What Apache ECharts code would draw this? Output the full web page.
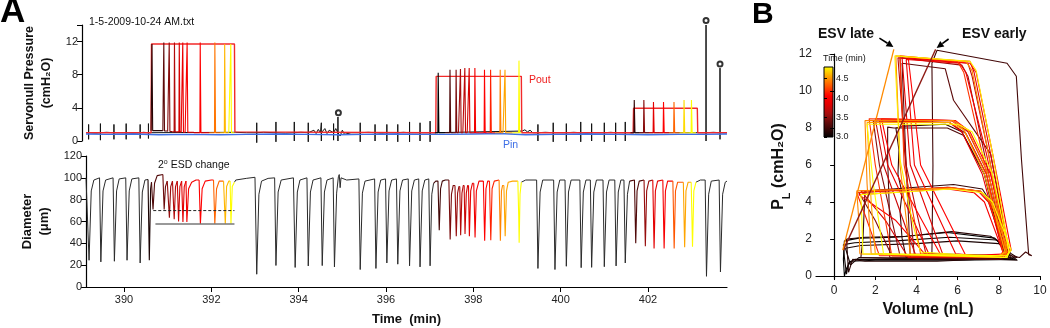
<!DOCTYPE html>
<html><head><meta charset="utf-8">
<script src="https://cdn.jsdelivr.net/npm/echarts@6/dist/echarts.min.js"></script>
<style>html,body{margin:0;padding:0;background:#fff}#c{width:1050px;height:328px}</style>
</head><body><div id="c"></div>
<script>
// ---------- tick labels ----------
const timeTicks = [390, 392, 394, 396, 398, 400, 402];
const pressureTicks = [0, 4, 8, 12];
const diameterTicks = [0, 20, 40, 60, 80, 100, 120];
const volumeTicks = [0, 2, 4, 6, 8, 10];
const plTicks = [0, 2, 4, 6, 8, 10, 12];
const colorbarTicks = [3.0, 3.5, 4.0, 4.5];

// ---------- Panel A, top: servo-null pressure (cmH2O) vs time (min) ----------
const pinTrace = [[389.13,0.85],[389.6,0.8],[390.2,0.85],[390.8,0.75],[391.5,0.8],[392.2,0.75],[392.8,0.8],[393.5,0.85],[394.2,0.8],[394.9,0.75],[395.5,0.8],[396.2,0.85],[396.8,0.8],[397.4,0.8],[398.0,0.85],[398.6,0.9],[399.2,0.75],[399.9,0.8],[400.6,0.85],[401.3,0.8],[402.0,0.75],[402.7,0.8],[403.3,0.8],[403.81,0.85]];
const poutTrace = [[389.13,1.0],[390.62,1.0],[390.63,11.7],[392.53,11.7],[392.54,1.1],[397.14,1.0],[397.15,7.8],[399.1,7.8],[399.11,1.0],[401.66,1.0],[401.67,3.95],[403.13,3.95],[403.14,1.0],[403.81,1.0]];
const servoBaseline = [[389.13,1.0],[389.35,0.95],[389.6,1.05],[389.9,1.0],[390.2,0.95],[390.45,1.05],[390.62,1.0],[392.55,1.05],[392.8,1.0],[393.2,1.05],[393.7,0.95],[394.05,1.05],[394.35,1.3],[394.4,0.9],[394.45,1.4],[394.5,1.0],[394.6,1.5],[394.65,0.9],[394.7,1.3],[394.85,1.5],[394.95,0.6],[395.0,1.3],[395.05,0.8],[395.2,1.0],[395.6,1.05],[395.9,0.95],[396.15,1.0],[396.4,1.05],[396.65,1.0],[396.9,1.0],[397.1,1.0],[399.12,1.2],[399.18,1.35],[399.24,1.1],[399.3,1.3],[399.36,1.0],[399.65,1.05],[400.0,1.0],[400.3,1.05],[400.6,0.95],[400.85,1.0],[401.15,1.05],[401.4,1.0],[401.6,1.0],[403.15,1.0],[403.5,1.05],[403.81,1.0]];
// [time, spike top, spike bottom]
const servoSpikes = [[389.19,2.0,0.2],[389.46,2.1,0.1],[389.77,2.0,0.2],[390.05,2.1,0.2],[390.37,2.0,0.3],[390.56,2.1,0.3],[393.04,2.2,-0.2],[393.48,2.3,-0.1],[393.90,2.3,0.0],[394.22,2.2,-0.1],[394.52,2.2,0.0],[394.80,2.1,0.1],[394.90,2.9,0.0],[395.41,2.2,-0.1],[395.75,2.0,0.0],[396.02,2.0,0.0],[396.27,2.0,-0.1],[396.54,2.3,-0.1],[396.78,2.2,0.0],[397.01,2.4,-0.1],[399.48,2.0,0.0],[399.83,2.2,-0.1],[400.13,2.1,0.0],[400.46,2.3,-0.1],[400.71,2.1,0.0],[401.0,2.2,-0.1],[401.26,2.2,0.0],[401.48,2.3,0.0],[403.33,14.0,0.0],[403.65,8.8,0.2]];
const servoMarkers = [[394.91,3.4],[403.33,14.55],[403.65,9.3]];
// [colour time, segment start, spike time, segment end, spike top, baseline]
const stepSpikes = [
 [3.15,390.62,390.645,390.89,11.7,1.25],[3.35,390.89,390.916,391.0,11.9,1.2],[3.5,391.0,391.04,391.1,11.9,1.15],[3.65,391.1,391.16,391.21,11.9,1.1],[3.8,391.21,391.27,391.31,11.9,1.1],[3.9,391.31,391.35,391.4,11.9,1.05],[4.0,391.4,391.45,391.6,11.9,1.05],[4.05,391.6,391.75,391.95,11.9,1.0],[4.4,391.95,392.085,392.2,11.9,1.0],[4.6,392.2,392.31,392.4,11.7,1.0],[4.8,392.4,392.45,392.53,11.7,1.0],
 [3.0,397.12,397.2,397.35,8.25,1.0],[3.3,397.35,397.47,397.54,8.6,1.0],[3.45,397.54,397.61,397.66,8.6,1.0],[3.6,397.66,397.71,397.76,8.7,1.0],[3.7,397.76,397.81,397.86,8.8,1.0],[3.8,397.86,397.91,397.97,8.8,1.0],[3.95,397.97,398.04,398.15,8.8,1.0],[4.05,398.15,398.26,398.33,8.6,1.0],[4.15,398.33,398.40,398.5,8.6,1.0],[4.45,398.5,398.62,398.68,8.6,1.0],[4.55,398.68,398.73,398.9,8.6,1.0],[4.8,398.9,399.05,399.1,9.7,1.0],
 [3.2,401.6,401.69,401.8,4.95,1.0],[3.5,401.8,401.91,402.02,4.95,1.0],[3.85,402.02,402.13,402.25,4.7,1.0],[4.05,402.25,402.36,402.48,4.7,1.0],[4.35,402.48,402.6,402.72,4.7,1.0],[4.7,402.72,402.83,402.92,4.95,1.0],[4.8,402.92,403.0,403.1,4.95,1.0]
];

// ---------- Panel A, bottom: diameter (um) vs time (min) ----------
const diameterBlack = [
 [[389.13,100],[389.17,100],[389.20,24.5],[389.25,88],[389.31,98],[389.44,100],[389.47,23],[389.52,88],[389.58,98],[389.75,100],[389.78,23.6],[389.83,88],[389.89,99],[390.04,100],[390.07,24.5],[390.12,88],[390.18,99],[390.34,100],[390.37,22],[390.42,87],[390.48,98],[390.55,98.5]],
 [[392.53,96],[392.56,98],[392.8,99.5],[393.0,100.5],[393.04,11.7],[393.09,85],[393.15,97],[393.3,99.5],[393.45,100],[393.48,19.7],[393.53,87],[393.6,98],[393.88,100],[393.92,17.9],[393.97,87],[394.03,98],[394.19,100],[394.22,19.3],[394.27,87],[394.33,98],[394.51,100],[394.54,19.6],[394.59,87],[394.65,98],[394.79,100],[394.82,18.4],[394.87,86],[394.91,101],[394.93,103],[394.95,91],[394.97,100],[395.1,98],[395.38,99],[395.41,16],[395.46,86],[395.52,97],[395.74,99],[395.77,17],[395.82,87],[395.88,98],[395.99,99],[396.02,22],[396.07,88],[396.13,98],[396.24,99],[396.27,20.9],[396.32,88],[396.38,98],[396.51,99],[396.54,19.4],[396.59,88],[396.65,98],[396.75,99],[396.78,18.4],[396.83,88],[396.89,98],[396.98,99],[397.01,19.4],[397.05,85],[397.09,95]],
 [[399.10,96],[399.2,98],[399.45,98],[399.48,17],[399.53,87],[399.59,98],[399.84,98],[399.87,16],[399.92,87],[399.98,98],[400.10,98],[400.13,19],[400.18,87],[400.24,98],[400.44,98],[400.47,17.7],[400.52,87],[400.58,98],[400.68,98],[400.71,18],[400.76,87],[400.82,98],[400.97,98],[401.0,18.6],[401.05,87],[401.11,98],[401.24,98],[401.27,19.3],[401.32,87],[401.38,98],[401.45,98],[401.48,22],[401.53,85],[401.58,97]],
 [[403.10,96],[403.2,98],[403.31,98],[403.34,9.8],[403.39,85],[403.45,97],[403.63,98],[403.66,13.8],[403.71,85],[403.77,96],[403.81,97]]
];
// [colour time, vertices]
const diameterColored = [
 [3.1,[[390.55,98.5],[390.58,24.5],[390.61,90],[390.63,96]]],
 [3.3,[[390.63,96],[390.655,96],[390.665,71],[390.70,95],[390.76,102],[390.80,103.5],[390.89,103]]],
 [3.4,[[390.89,103],[390.92,71],[390.95,92],[390.99,97]]],
 [3.55,[[390.99,97],[391.04,63.5],[391.07,92],[391.11,97]]],
 [3.65,[[391.11,97],[391.15,62],[391.18,92],[391.22,97]]],
 [3.75,[[391.22,97],[391.25,60],[391.28,92],[391.32,97]]],
 [3.85,[[391.32,97],[391.35,59.5],[391.38,92],[391.42,97]]],
 [3.95,[[391.42,97],[391.44,59.5],[391.48,90],[391.55,96],[391.65,98],[391.72,98]]],
 [4.05,[[391.72,98],[391.75,57.7],[391.79,90],[391.86,97],[392.0,98],[392.05,98]]],
 [4.35,[[392.05,98],[392.08,57.7],[392.12,90],[392.18,97],[392.28,97]]],
 [4.6,[[392.28,97],[392.32,57.7],[392.35,92],[392.40,97],[392.43,97]]],
 [4.8,[[392.43,97],[392.45,58],[392.48,92],[392.53,96]]],
 [3.25,[[397.09,95],[397.14,97],[397.19,97],[397.22,52],[397.25,90],[397.29,97],[397.36,98],[397.44,98]]],
 [3.45,[[397.44,98],[397.47,43.6],[397.50,85],[397.54,93],[397.58,93]]],
 [3.55,[[397.58,93],[397.61,46.6],[397.64,86],[397.67,92],[397.69,92]]],
 [3.65,[[397.69,92],[397.71,47.5],[397.74,86],[397.77,93],[397.79,93]]],
 [3.75,[[397.79,93],[397.81,48.5],[397.84,86],[397.87,93],[397.89,93]]],
 [3.85,[[397.89,93],[397.91,46.6],[397.94,88],[397.98,95],[398.01,95]]],
 [3.95,[[398.01,95],[398.04,45.4],[398.07,88],[398.13,97],[398.23,97]]],
 [4.05,[[398.23,97],[398.26,42.4],[398.29,90],[398.33,97],[398.37,97]]],
 [4.15,[[398.37,97],[398.40,42.9],[398.43,90],[398.48,97],[398.59,98]]],
 [4.45,[[398.59,98],[398.62,42.4],[398.645,88],[398.67,93],[398.70,93]]],
 [4.55,[[398.70,93],[398.73,46.6],[398.76,88],[398.80,96],[398.9,97],[399.02,97]]],
 [4.8,[[399.02,97],[399.04,65],[399.05,40.5],[399.07,85],[399.10,96]]],
 [3.3,[[401.58,97],[401.62,98],[401.69,98],[401.72,40],[401.75,88],[401.80,97],[401.91,98]]],
 [3.55,[[401.91,98],[401.94,37.4],[401.97,88],[402.02,97],[402.11,98]]],
 [3.85,[[402.11,98],[402.14,35.3],[402.17,88],[402.22,97],[402.34,98]]],
 [4.0,[[402.34,98],[402.37,35.3],[402.40,88],[402.45,97],[402.57,97]]],
 [4.3,[[402.57,97],[402.60,35.3],[402.63,88],[402.68,96],[402.81,96]]],
 [4.55,[[402.81,96],[402.84,36.4],[402.87,88],[402.92,96],[402.99,96]]],
 [4.8,[[402.99,96],[403.02,36.8],[403.05,88],[403.10,96]]]
];
const esdDashed = [[390.67,70],[392.53,70]];
const esdSolid = [[390.72,57.7],[392.53,57.7]];

// ---------- Panel B: P_L (cmH2O) vs volume (nL) loops ----------
const pvLoops = [
 [3.0,[[0.5,1.9],[1.2,2.05],[3.0,2.1],[5.5,2.35],[7.8,2.05],[8.3,1.5],[8.5,1.0],[8.8,0.9],[6.0,0.85],[2.0,0.85],[0.8,0.8],[0.6,0.4],[0.5,0.0],[0.45,0.9],[0.5,1.9]]],
 [3.05,[[0.45,1.7],[1.0,1.8],[3.0,1.9],[5.6,2.1],[7.9,1.95],[8.4,1.4],[8.6,0.95],[6.0,0.9],[2.0,0.9],[1.0,0.9],[0.7,0.7],[0.6,0.1],[0.5,1.0],[0.45,1.7]]],
 [3.1,[[0.55,1.5],[1.3,1.65],[4.0,1.75],[6.0,1.9],[8.0,1.75],[8.5,1.2],[8.9,0.85],[7.0,0.95],[3.0,0.95],[1.2,1.0],[0.8,0.6],[0.55,1.5]]],
 [3.15,[[0.6,2.0],[1.5,2.1],[3.5,2.15],[5.7,2.4],[7.6,2.15],[8.2,1.7],[8.6,1.2],[8.9,1.0],[5.0,0.8],[1.5,0.8],[0.9,0.9],[0.7,0.2],[0.6,2.0]]],
 [3.2,[[3.3,2.05],[3.2,3.5],[3.3,4.5],[3.1,5.5],[3.15,6.8],[3.0,8.0],[3.4,8.1],[5.4,8.2],[6.2,7.8],[7.3,5.5],[8.0,2.2],[8.3,1.2],[8.5,0.95],[4.0,0.9],[3.5,1.0],[3.3,2.05]]],
 [3.2,[[1.3,1.0],[8.2,0.9],[8.4,1.2],[7.6,4.0],[7.2,4.7],[5.8,4.95],[1.5,4.6],[1.4,2.0],[1.3,1.0]]],
 [3.25,[[4.75,1.2],[8.6,1.1],[9.0,1.0],[9.3,1.3],[9.6,1.1],[9.45,1.15],[9.1,6.3],[8.85,10.8],[8.4,11.5],[5.0,12.2],[4.75,11.5],[4.8,6.0],[4.75,1.2]]],
 [3.3,[[2.7,1.0],[8.0,0.9],[8.3,1.2],[7.3,5.5],[6.3,7.6],[5.5,8.0],[2.9,8.0],[2.6,8.05],[2.6,6.3],[2.7,3.0],[2.7,1.0]]],
 [3.35,[[3.7,1.0],[8.0,0.9],[8.5,1.2],[7.6,6.6],[5.8,9.5],[5.4,11.2],[3.3,11.5],[3.5,6.0],[3.7,1.0]]],
 [3.5,[[3.2,1.1],[8.1,1.0],[8.3,1.3],[7.4,5.5],[6.4,7.7],[5.6,8.3],[1.9,8.4],[2.2,6.0],[3.2,1.1]]],
 [3.5,[[2.8,1.1],[8.1,1.0],[8.3,1.3],[7.5,4.0],[7.0,4.6],[5.5,4.8],[1.2,4.5],[2.0,3.0],[2.8,1.1]]],
 [3.55,[[3.9,1.1],[8.1,1.0],[8.3,1.3],[7.3,6.6],[6.5,10.8],[6.2,11.4],[3.2,11.8],[3.4,7.0],[3.9,1.1]]],
 [3.7,[[4.5,1.0],[8.2,1.0],[8.4,1.3],[7.5,6.6],[6.7,10.8],[6.5,11.5],[3.1,11.8],[3.5,6.0],[4.5,1.0]]],
 [3.75,[[4.0,1.0],[8.2,1.1],[8.4,1.3],[7.5,5.5],[6.5,7.8],[5.8,8.4],[2.0,8.5],[2.4,6.0],[4.0,1.0]]],
 [3.8,[[3.6,1.0],[8.3,1.1],[8.5,1.4],[7.6,4.0],[7.1,4.6],[5.6,4.75],[1.3,4.6],[2.5,3.0],[3.6,1.0]]],
 [3.85,[[5.3,1.1],[8.3,1.1],[8.5,1.4],[7.6,6.6],[6.8,11.0],[6.6,11.6],[3.3,11.8],[3.7,6.0],[5.3,1.1]]],
 [3.9,[[4.6,1.2],[8.0,1.0],[8.2,1.3],[7.2,5.5],[6.2,7.8],[5.6,8.3],[2.2,8.4],[2.6,6.0],[4.6,1.2]]],
 [3.95,[[5.9,1.2],[8.2,1.0],[8.4,1.3],[7.4,6.6],[6.4,11.0],[6.1,11.5],[3.5,11.7],[3.9,6.0],[5.9,1.2]]],
 [4.0,[[4.4,1.2],[8.0,1.0],[8.2,1.3],[7.3,4.0],[6.8,4.5],[5.5,4.7],[1.2,4.4],[3.0,3.0],[4.4,1.2]]],
 [4.05,[[6.4,1.1],[8.4,1.2],[8.6,1.4],[7.7,6.6],[6.9,11.0],[6.6,11.5],[3.6,11.8],[4.2,6.0],[6.4,1.1]]],
 [4.05,[[5.2,1.1],[8.3,1.1],[8.5,1.4],[7.6,5.5],[6.6,7.8],[5.9,8.4],[2.3,8.5],[2.8,6.0],[5.2,1.1]]],
 [4.15,[[2.2,1.1],[8.2,1.1],[8.4,1.3],[7.5,4.0],[7.0,4.6],[5.6,4.8],[1.1,4.5],[1.6,3.0],[2.2,1.1]]],
 [4.2,[[4.2,1.2],[8.0,1.0],[8.2,1.3],[7.2,6.6],[6.3,11.0],[6.0,11.6],[3.2,11.9],[3.4,6.0],[4.2,1.2]]],
 [4.2,[[2.8,1.1],[8.1,1.0],[8.3,1.3],[7.4,5.5],[6.3,7.9],[5.7,8.4],[1.7,8.5],[2.0,6.0],[2.8,1.1]]],
 [4.45,[[3.7,1.2],[8.1,1.1],[8.35,1.3],[7.5,6.6],[6.7,11.1],[6.4,11.6],[3.0,11.9],[3.2,6.0],[3.7,1.2]]],
 [4.45,[[1.8,1.2],[8.2,1.0],[8.4,1.3],[7.5,5.5],[6.5,7.9],[5.8,8.4],[1.5,8.4],[1.6,5.0],[1.8,1.2]]],
 [4.45,[[1.25,1.2],[8.3,1.0],[8.5,1.3],[7.6,4.0],[7.1,4.6],[5.7,4.75],[1.1,4.6],[1.2,3.0],[1.25,1.2]]],
 [4.55,[[2.0,1.2],[8.0,1.1],[8.3,1.3],[7.3,5.5],[6.3,7.9],[5.6,8.3],[1.6,8.3],[1.8,4.0],[2.0,1.2]]],
 [4.75,[[4.2,1.3],[8.3,1.0],[8.5,1.3],[7.7,6.6],[6.9,11.1],[6.6,11.6],[2.95,11.9],[3.2,6.3],[3.6,4.0],[3.9,2.5],[4.2,1.3]]],
 [4.8,[[2.4,1.2],[8.4,1.0],[8.5,1.3],[7.7,5.5],[6.7,7.8],[6.0,8.2],[1.6,8.2],[1.9,5.0],[2.4,1.2]]],
 [4.8,[[1.4,1.2],[8.4,1.1],[8.6,1.4],[7.7,4.0],[7.2,4.5],[5.7,4.7],[1.3,4.4],[1.35,3.0],[1.4,1.2]]]
];
const esvEarly = [[0.45,1.4],[4.93,12.25]];
const esvLate = [[0.42,1.4],[2.9,12.25]];
const esvArrows = [[[2.2,12.86],[2.88,12.38]],[[5.56,12.81],[4.98,12.33]]];

// ---------- colour scale (time, min) ----------
const timeColorStops = [[3.0,[0,0,0]],[3.35,[92,10,10]],[3.6,[165,14,14]],[3.85,[228,0,0]],[4.05,[255,0,0]],[4.3,[255,85,0]],[4.55,[255,165,0]],[4.8,[255,255,0]]];
function timeColor(t){
  const s = timeColorStops;
  if (t <= s[0][0]) return 'rgb(' + s[0][1].join(',') + ')';
  for (let i = 1; i < s.length; i++) {
    if (t <= s[i][0]) {
      const f = (t - s[i-1][0]) / (s[i][0] - s[i-1][0]);
      const c = s[i-1][1].map((v, k) => Math.round(v + f * (s[i][1][k] - v)));
      return 'rgb(' + c.join(',') + ')';
    }
  }
  return 'rgb(' + s[s.length-1][1].join(',') + ')';
}

const FONT = 'Liberation Sans, Arial, sans-serif';
const chart = echarts.init(document.getElementById('c'), null, {renderer: 'canvas'});

function line(data, color, width, xi, yi, extra) {
  return Object.assign({type:'line', xAxisIndex:xi, yAxisIndex:yi, data:data, showSymbol:false, symbol:'none',
    silent:true, animation:false, clip:false, lineStyle:{color:color, width:width}}, extra || {});
}

const series = [];
const servoPts = servoBaseline.map(p => [p[0], p[1]]);
servoSpikes.forEach(s => { servoPts.push([s[0],1.0],[s[0],s[1]],[s[0],s[2]],[s[0],1.0]); });
servoPts.sort((a, b) => a[0] - b[0]);
series.push(line(servoPts, '#111', 1, 0, 0));
series.push(line(poutTrace, '#f22a2a', 1.4, 0, 0));
series.push(line(pinTrace, '#3d6fe6', 1.4, 0, 0));
stepSpikes.forEach(r => {
  const [ct, t0, tp, t1, top, base] = r;
  const pts = [[t0,base],[tp-0.012,base],[tp-0.004,top],[tp+0.004,top],[tp+0.012,base],[t1,base]];
  series.push(line(pts, timeColor(ct), 1.1, 0, 0));
});
series.push({type:'scatter', xAxisIndex:0, yAxisIndex:0, data:servoMarkers, symbol:'emptyCircle', symbolSize:5,
  itemStyle:{color:'#000', borderWidth:1}, silent:true, animation:false, clip:false});

diameterBlack.forEach(seg => series.push(line(seg, '#2b2b2b', 1, 1, 1)));
diameterColored.forEach(r => series.push(line(r[1], timeColor(r[0]), 1.1, 1, 1)));
series.push(line(esdDashed, '#222', 1, 1, 1, {lineStyle:{color:'#222', width:1, type:[3,2]}}));
series.push(line(esdSolid, '#777', 1.4, 1, 1));

pvLoops.forEach(r => series.push(line(r[1], timeColor(r[0]), 1.1, 2, 2)));
series.push(line(esvEarly, '#8e1a14', 1.3, 2, 2));
series.push(line(esvLate, '#ff8a00', 1.3, 2, 2));

const axisLineStyle = {lineStyle:{color:'#000', width:1.2}};
const labelStyle = {color:'#222', fontFamily:FONT, fontSize:11};
const nameStyleA = {color:'#111', fontFamily:FONT, fontWeight:'bold', fontSize:12.5, lineHeight:17};

const grad = timeColorStops.slice().reverse().map(s => ({offset:(4.8 - s[0]) / 1.8, color:'rgb(' + s[1].join(',') + ')'}));

const textGraphics = [
    {type:'text', left:0, top:-5, style:{text:'A', font:'bold 35px ' + FONT, fill:'#000'}},
    {type:'text', left:752, top:0, style:{text:'B', font:'bold 30px ' + FONT, fill:'#000'}},
    {type:'text', left:89, top:17, style:{text:'1-5-2009-10-24 AM.txt', font:'10.5px ' + FONT, fill:'#111'}},
    {type:'text', left:529, top:75, style:{text:'Pout', font:'10.5px ' + FONT, fill:'#ee1c1c'}},
    {type:'text', left:503, top:140, style:{text:'Pin', font:'10.5px ' + FONT, fill:'#3d6fe6'}},
    {type:'text', left:158, top:159, style:{text:'2{s|o} ESD change', font:'10.5px ' + FONT, fill:'#111',
      rich:{s:{fontSize:7, fontFamily:FONT, verticalAlign:'top', lineHeight:12, fill:'#111'}}}},
    {type:'text', left:818, top:27, style:{text:'ESV late', font:'bold 14px ' + FONT, fill:'#111'}},
    {type:'text', left:962, top:27, style:{text:'ESV early', font:'bold 14px ' + FONT, fill:'#111'}},
    {type:'text', left:823, top:54, style:{text:'Time (min)', font:'9px ' + FONT, fill:'#111'}}
];

const option = {
  backgroundColor:'#fff',
  animation:false,
  grid:[
    {left:86, top:25, width:641, height:116},
    {left:86, top:156, width:641, height:131},
    {left:816, top:54, width:224, height:225},
    {left:824, top:67, width:9, height:70, show:true, borderColor:'#000', borderWidth:1,
      backgroundColor:new echarts.graphic.LinearGradient(0,0,0,1,grad)}
  ],
  xAxis:[
    {gridIndex:0, type:'value', min:389.13, max:403.81, show:false},
    {gridIndex:1, type:'value', min:389.13, max:403.81, axisLine:axisLineStyle, splitLine:{show:false},
      axisTick:{inside:false, length:5, customValues:timeTicks, lineStyle:{color:'#000'}},
      axisLabel:Object.assign({customValues:timeTicks, margin:7}, labelStyle),
      name:'Time  (min)', nameLocation:'middle', nameGap:26,
      nameTextStyle:{color:'#111', fontFamily:FONT, fontWeight:'bold', fontSize:13}},
    {gridIndex:2, type:'value', min:-0.88, max:10, axisLine:axisLineStyle, splitLine:{show:false},
      axisTick:{inside:false, length:4, customValues:volumeTicks, lineStyle:{color:'#000'}},
      axisLabel:Object.assign({customValues:volumeTicks, margin:6}, labelStyle, {fontSize:12}),
      name:'Volume (nL)', nameLocation:'middle', nameGap:19,
      nameTextStyle:{color:'#111', fontFamily:FONT, fontWeight:'bold', fontSize:16}},
    {gridIndex:3, type:'value', min:0, max:1, show:false}
  ],
  yAxis:[
    {gridIndex:0, type:'value', min:0, max:14, offset:4, axisLine:axisLineStyle, splitLine:{show:false},
      axisTick:{inside:false, length:5, customValues:[0,4,8,12,14], lineStyle:{color:'#000'}},
      axisLabel:Object.assign({customValues:pressureTicks, margin:4}, labelStyle),
      name:'Servonull Pressure\n(cmH₂O)', nameLocation:'middle', nameRotate:90, nameGap:20, nameTextStyle:nameStyleA},
    {gridIndex:1, type:'value', min:0, max:120, interval:20, axisLine:axisLineStyle, splitLine:{show:false},
      axisTick:{inside:false, length:5, customValues:diameterTicks, lineStyle:{color:'#000'}},
      axisLabel:Object.assign({customValues:diameterTicks, margin:4}, labelStyle),
      name:'Diameter\n(μm)', nameLocation:'middle', nameRotate:90, nameGap:23,
      nameTextStyle:Object.assign({}, nameStyleA, {fontSize:13})},
    {gridIndex:2, type:'value', min:-0.16, max:12, axisLine:axisLineStyle, splitLine:{show:false},
      axisTick:{inside:false, length:4, customValues:plTicks, lineStyle:{color:'#000'}},
      axisLabel:Object.assign({customValues:plTicks, margin:4}, labelStyle, {fontSize:12}),
      name:'{b|P}{s|L}{b| (cmH₂O)}', nameLocation:'middle', nameRotate:90, nameGap:24,
      nameTextStyle:{rich:{
        b:{color:'#111', fontFamily:FONT, fontWeight:'bold', fontSize:16, lineHeight:18, verticalAlign:'top'},
        s:{color:'#111', fontFamily:FONT, fontWeight:'bold', fontSize:11, lineHeight:21, verticalAlign:'bottom'}}}},
    {gridIndex:3, type:'value', min:3.0, max:4.8, position:'right', axisLine:{show:false}, splitLine:{show:false},
      axisTick:{inside:false, length:3, customValues:colorbarTicks, lineStyle:{color:'#000'}},
      axisLabel:{customValues:colorbarTicks, margin:3, color:'#222', fontFamily:FONT, fontSize:9,
        formatter:v => Number(v).toFixed(1)}}
  ],
  graphic:textGraphics,
  series:series
};
chart.setOption(option);

// annotation arrows, placed from data coordinates of panel B
const arrowGraphics = [];
esvArrows.forEach(a => {
  const p0 = chart.convertToPixel({gridIndex:2}, a[0]);
  const p1 = chart.convertToPixel({gridIndex:2}, a[1]);
  const dx = p1[0] - p0[0], dy = p1[1] - p0[1];
  const L = Math.hypot(dx, dy), ux = dx / L, uy = dy / L;
  const hl = 7, hw = 3.5;
  const bx = p1[0] - ux * hl, by = p1[1] - uy * hl;
  arrowGraphics.push({type:'line', shape:{x1:p0[0], y1:p0[1], x2:bx, y2:by}, style:{stroke:'#000', lineWidth:1.6}});
  arrowGraphics.push({type:'polygon', shape:{points:[[p1[0],p1[1]],[bx - uy*hw, by + ux*hw],[bx + uy*hw, by - ux*hw]]}, style:{fill:'#000'}});
});
chart.setOption({graphic: textGraphics.concat(arrowGraphics)});
</script>
</body></html>
